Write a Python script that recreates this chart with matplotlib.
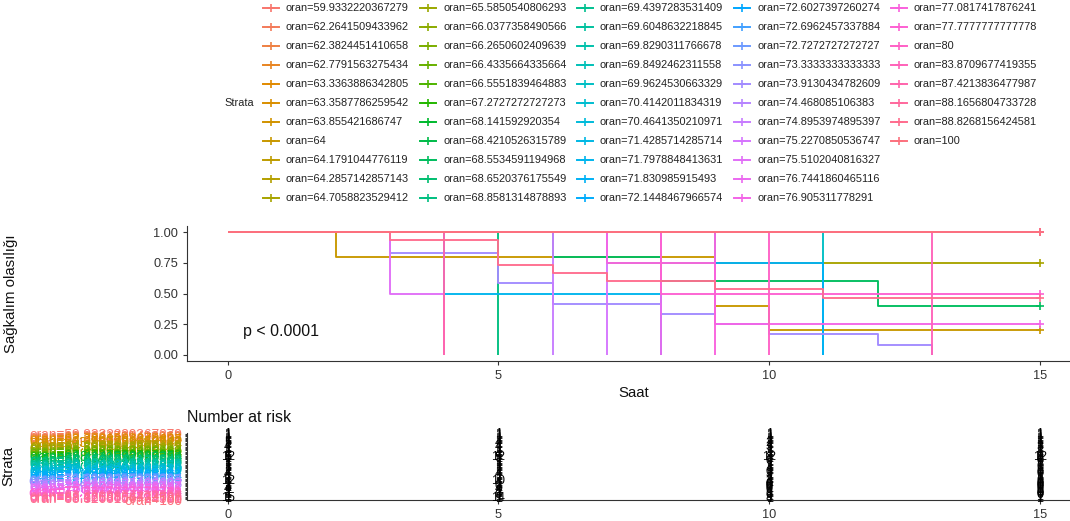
import numpy as np
import matplotlib
matplotlib.use("Agg")
import matplotlib.pyplot as plt
from matplotlib.lines import Line2D

plt.rcParams['font.family'] = ['Liberation Sans', 'DejaVu Sans']

# ---------------- data ----------------
strata = ["59.9332220367279", "62.2641509433962", "62.3824451410658", "62.7791563275434",
          "63.3363886342805", "63.3587786259542", "63.855421686747", "64",
          "64.1791044776119", "64.2857142857143", "64.7058823529412",
          "65.5850540806293", "66.0377358490566", "66.2650602409639", "66.4335664335664",
          "66.5551839464883", "67.2727272727273", "68.141592920354", "68.4210526315789",
          "68.5534591194968", "68.6520376175549", "68.8581314878893",
          "69.4397283531409", "69.6048632218845", "69.8290311766678", "69.8492462311558",
          "69.9624530663329", "70.4142011834319", "70.4641350210971", "71.4285714285714",
          "71.7978848413631", "71.830985915493", "72.1448467966574",
          "72.6027397260274", "72.6962457337884", "72.7272727272727", "73.3333333333333",
          "73.9130434782609", "74.468085106383", "74.8953974895397", "75.2270850536747",
          "75.5102040816327", "76.7441860465116", "76.905311778291",
          "77.0817417876241", "77.7777777777778", "80", "83.8709677419355",
          "87.4213836477987", "88.1656804733728", "88.8268156424581", "100"]
labels = ["oran=" + s for s in strata]

# survival step curves (time, survival) for strata that are not flat at 1.0
curve_times = {
    7:  [0, 2, 9, 10, 15],
    10: [0, 7, 15],
    19: [0, 6, 8, 12, 15],
    21: [0, 5],
    26: [0, 11],
    30: [0, 4, 8],
    31: [0, 9, 11],
    37: [0, 3, 5, 6, 8, 9, 10, 12, 13],
    39: [0, 6],
    40: [0, 7],
    41: [0, 3, 4],
    42: [0, 8],
    43: [0, 7, 9, 15],
    44: [0, 9],
    45: [0, 8, 15],
    46: [0, 10],
    47: [0, 13],
    48: [0, 4],
    50: [0, 3, 5, 6, 7, 9, 11, 15],
}
curve_surv = {
    7:  [1, 0.8, 0.4, 0.2, 0.2],
    10: [1, 0.75, 0.75],
    19: [1, 0.8, 0.6, 0.4, 0.4],
    21: [1, 0],
    26: [1, 0],
    30: [1, 0.5, 0],
    31: [1, 0.75, 0],
    37: [1, 0.833, 0.583, 0.417, 0.333, 0.25, 0.167, 0.083, 0],
    39: [1, 0],
    40: [1, 0],
    41: [1, 0.5, 0],
    42: [1, 0],
    43: [1, 0.75, 0.25, 0.25],
    44: [1, 0],
    45: [1, 0.5, 0.5],
    46: [1, 0],
    47: [1, 0],
    48: [1, 0],
    50: [1, 0.933, 0.733, 0.667, 0.6, 0.533, 0.467, 0.467],
}
flat_times = [0, 15]
flat_surv = [1, 1]

risk_times = [0, 5, 10, 15]
n_risk_0 = [1, 1, 1, 1, 1, 1, 1, 5, 1, 1, 4, 1, 1, 1, 1, 1, 1, 1, 12, 5,
            1, 1, 1, 1, 1, 1, 1, 1, 1, 1, 2, 4, 1, 1, 1, 1, 1, 12, 1, 1,
            1, 2, 1, 4, 1, 2, 1, 1, 1, 1, 15, 1]
n_risk_5 = [1, 1, 1, 1, 1, 1, 1, 4, 1, 1, 4, 1, 1, 1, 1, 1, 1, 1, 12, 5,
            1, 1, 1, 1, 1, 1, 1, 1, 1, 1, 1, 4, 1, 1, 1, 1, 1, 10, 1, 1,
            1, 0, 1, 4, 1, 2, 1, 1, 0, 1, 14, 1]
n_risk_10 = [1, 1, 1, 1, 1, 1, 1, 2, 1, 1, 3, 1, 1, 1, 1, 1, 1, 1, 12, 3,
             1, 0, 1, 1, 1, 1, 1, 1, 1, 1, 0, 3, 1, 1, 1, 1, 1, 3, 1, 0,
             0, 0, 0, 1, 0, 1, 1, 1, 0, 1, 8, 1]
n_risk_15 = [1, 1, 1, 1, 1, 1, 1, 1, 1, 1, 3, 1, 1, 1, 1, 1, 1, 1, 12, 2,
             1, 0, 1, 1, 1, 1, 0, 1, 1, 1, 0, 0, 1, 1, 1, 1, 1, 0, 1, 0,
             0, 0, 0, 1, 0, 1, 0, 0, 0, 1, 7, 1]
n_risk = [n_risk_0, n_risk_5, n_risk_10, n_risk_15]

x_ticks = [0, 5, 10, 15]
y_ticks = [0, 0.25, 0.5, 0.75, 1.0]
y_tick_labels = ["0.00", "0.25", "0.50", "0.75", "1.00"]
p_text = "p < 0.0001"


# --------------- ggplot hue palette ----------------
def hcl_to_rgb(h, c=100.0, l=65.0):
    WX, WY, WZ = 95.047, 100.000, 108.883
    t = WX + WY + WZ
    x, y = WX / t, WY / t
    uN = 2 * x / (6 * y - x + 1.5)
    vN = 4.5 * y / (6 * y - x + 1.5)
    hr = np.deg2rad(h)
    U, V = c * np.cos(hr), c * np.sin(hr)
    Y = WY * ((l + 16) / 116) ** 3 if l > 8 else WY * l / 903.3
    u = U / (13 * l) + uN
    v = V / (13 * l) + vN
    X = 9.0 * Y * u / (4 * v)
    Z = -X / 3 - 5 * Y + 3 * Y / v

    def g(val):
        val = val / WY
        r = 1.055 * val ** (1 / 2.4) - 0.055 if val > 0.00304 else 12.92 * val
        return min(max(r, 0), 1)
    R = g(3.240479 * X - 1.537150 * Y - 0.498535 * Z)
    G = g(-0.969256 * X + 1.875992 * Y + 0.041556 * Z)
    B = g(0.055648 * X - 0.204043 * Y + 1.057311 * Z)
    return (R, G, B)


n = len(labels)
colors = [hcl_to_rgb(15 + 360 * i / n) for i in range(n)]

# --------------- figure ----------------
W, H = 1070, 521
fig = plt.figure(figsize=(W / 100, H / 100), dpi=100)


def fx(px):
    return px / W


def fy(py):
    return 1 - py / H


left_px, right_px = 187, 1080.6
ax = fig.add_axes([fx(left_px), fy(361), fx(right_px) - fx(left_px), fy(226) - fy(361)])
rax = fig.add_axes([fx(left_px), fy(500), fx(right_px) - fx(left_px), fy(433) - fy(500)])

axis_col = '#333333'
for a in (ax, rax):
    a.spines['top'].set_visible(False)
    a.spines['right'].set_visible(False)
    a.spines['left'].set_color(axis_col)
    a.spines['bottom'].set_color(axis_col)
    a.spines['left'].set_linewidth(0.8)
    a.spines['bottom'].set_linewidth(0.8)
    a.tick_params(colors=axis_col, length=3, width=0.8, labelcolor='#333333')
    a.set_xlim(-0.75, 15.75)
    a.set_xticks(x_ticks)
    a.set_xticklabels([str(t) for t in x_ticks], fontsize=9.2)

# survival curves
for i in range(n):
    t = curve_times.get(i, flat_times)
    s = curve_surv.get(i, flat_surv)
    ax.step(t, s, where='post', color=colors[i], lw=1.35, solid_capstyle='butt')
    if s[-1] > 0:
        ax.plot([t[-1]], [s[-1]], marker='+', color=colors[i], ms=6, mew=1.2)

ax.set_ylim(-0.05, 1.05)
ax.set_yticks(y_ticks)
ax.set_yticklabels(y_tick_labels, fontsize=9.2)
ax.set_xlabel('Saat', fontsize=10.8, color='#111111', labelpad=3)
ax.set_ylabel('Sağkalım olasılığı', fontsize=10.8, color='#111111')
ax.yaxis.set_label_coords((18 - left_px) / (right_px - left_px), 0.5)
ax.text(0.28, 0.19, p_text, fontsize=11.5, va='center', ha='left', color='#111111')

# risk table
for j, tt in enumerate(risk_times):
    for i in range(n):
        rax.text(tt, n - i, str(n_risk[j][i]), ha='center', va='center',
                 fontsize=9, color='black')
rax.set_ylim(0.4, n + 0.6)
rax.set_yticks([n - i for i in range(n)])
rax.set_yticklabels(labels, fontsize=9.8)
for i, lab in enumerate(rax.get_yticklabels()):
    lab.set_color(colors[i])
rax.tick_params(axis='y', length=1.5, pad=2)
rax.set_ylabel('Strata', fontsize=10.8, color='#111111')
rax.yaxis.set_label_coords((15 - left_px) / (right_px - left_px), 0.5)
fig.text(fx(187), fy(418), 'Number at risk', fontsize=11.5, ha='left', va='center',
         color='#111111')

# legend (manual grid, 5 columns x 11 rows)
rows = 11
row0, dy = 8.3, 19.0
col_text_x = [286, 443, 600, 757, 914]
fig.text(fx(254), fy(row0 + 5 * dy), 'Strata', fontsize=7.9, ha='right', va='center',
         color='#222222')
for i in range(n):
    c, r = divmod(i, rows)
    ypx = row0 + r * dy
    tx = col_text_x[c]
    fig.add_artist(Line2D([fx(tx - 23), fx(tx - 7)], [fy(ypx), fy(ypx)],
                          color=colors[i], lw=1.4, transform=fig.transFigure))
    fig.add_artist(Line2D([fx(tx - 15)], [fy(ypx)], marker='+', ms=6, mew=1.2,
                          color=colors[i], transform=fig.transFigure))
    fig.text(fx(tx), fy(ypx), labels[i], fontsize=7.9, ha='left', va='center',
             color='#222222')

fig.savefig('out.png', dpi=100)
